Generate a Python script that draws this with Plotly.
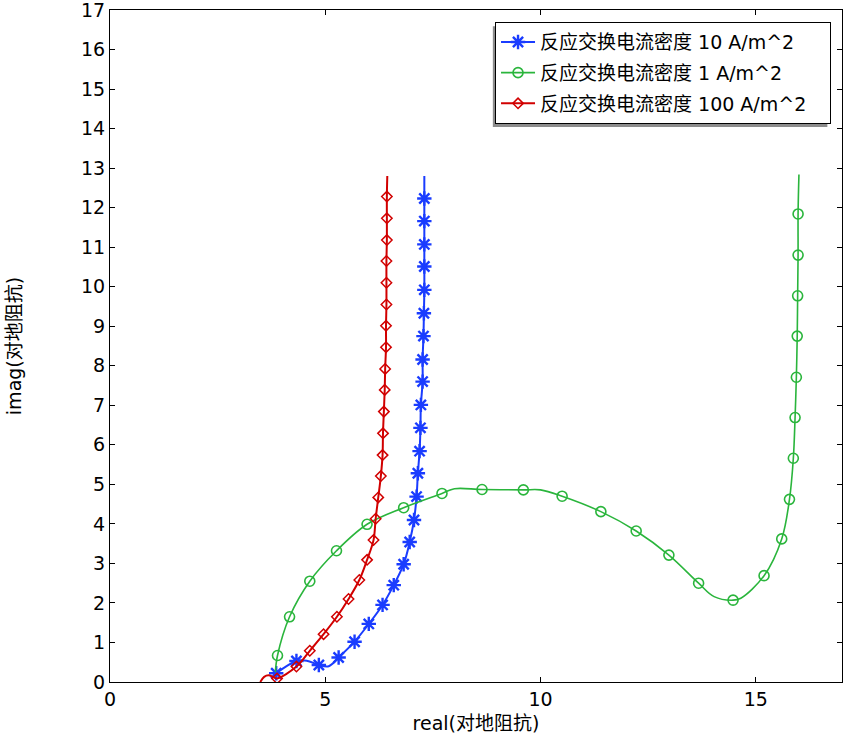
import plotly.graph_objects as go

# 反应交换电流密度 10 A/m^2 (blue)
x10_line = [3.86, 4.33, 4.57, 4.85, 5.08, 5.31, 5.68, 6.01, 6.33, 6.59, 6.82, 6.96, 7.06, 7.12, 7.15,
            7.19, 7.21, 7.22, 7.26, 7.26, 7.28, 7.29, 7.30, 7.30, 7.30, 7.30, 7.30, 7.30]
y10_line = [0.22, 0.53, 0.54, 0.43, 0.40, 0.62, 1.02, 1.47, 1.95, 2.45, 2.98, 3.54, 4.10, 4.69, 5.28,
            5.84, 6.43, 7.01, 7.60, 8.16, 8.75, 9.33, 9.92, 10.51, 11.07, 11.66, 12.23, 12.8]
x10_mark = [3.86, 4.33, 4.85, 5.31, 5.68, 6.01, 6.33, 6.59, 6.82, 6.96, 7.06, 7.12, 7.15,
            7.19, 7.21, 7.22, 7.26, 7.26, 7.28, 7.29, 7.30, 7.30, 7.30, 7.30, 7.30]
y10_mark = [0.22, 0.53, 0.43, 0.62, 1.02, 1.47, 1.95, 2.45, 2.98, 3.54, 4.10, 4.69, 5.28,
            5.84, 6.43, 7.01, 7.60, 8.16, 8.75, 9.33, 9.92, 10.51, 11.07, 11.66, 12.23]

# 反应交换电流密度 1 A/m^2 (green)
x1_line = [3.84, 3.89, 4.17, 4.64, 5.26, 5.97, 6.82, 7.71, 8.0, 8.64, 9.60, 10.0, 10.50, 11.40, 12.22,
           12.98, 13.67, 14.03, 14.47, 14.65, 15.19, 15.60, 15.78, 15.87, 15.91, 15.94, 15.96, 15.97,
           15.98, 15.98, 16.0]
y1_line = [0.25, 0.67, 1.65, 2.55, 3.32, 3.99, 4.41, 4.77, 4.89, 4.87, 4.86, 4.86, 4.70, 4.31, 3.82,
           3.21, 2.50, 2.16, 2.07, 2.12, 2.69, 3.62, 4.62, 5.66, 6.69, 7.71, 8.75, 9.77,
           10.80, 11.84, 12.84]
x1_mark = [3.89, 4.17, 4.64, 5.26, 5.97, 6.82, 7.71, 8.64, 9.60, 10.50, 11.40, 12.22, 12.98, 13.67,
           14.47, 15.19, 15.60, 15.78, 15.87, 15.91, 15.94, 15.96, 15.97, 15.98, 15.98]
y1_mark = [0.67, 1.65, 2.55, 3.32, 3.99, 4.41, 4.77, 4.87, 4.86, 4.70, 4.31, 3.82, 3.21, 2.50,
           2.07, 2.69, 3.62, 4.62, 5.66, 6.69, 7.71, 8.75, 9.77, 10.80, 11.84]

# 反应交换电流密度 100 A/m^2 (red)
x100_line = [3.49, 3.58, 3.68, 3.80, 3.88, 4.33, 4.64, 4.96, 5.27, 5.54, 5.79, 5.97, 6.12, 6.17, 6.23,
             6.29, 6.33, 6.34, 6.36, 6.38, 6.39, 6.41, 6.41, 6.42, 6.42, 6.42, 6.43, 6.43, 6.43, 6.44]
y100_line = [0.0, 0.13, 0.17, 0.12, 0.09, 0.39, 0.79, 1.21, 1.65, 2.10, 2.58, 3.09, 3.59, 4.13, 4.67,
             5.21, 5.74, 6.29, 6.84, 7.39, 7.92, 8.47, 9.01, 9.55, 10.10, 10.65, 11.18, 11.73, 12.28, 12.8]
x100_mark = [3.88, 4.33, 4.64, 4.96, 5.27, 5.54, 5.79, 5.97, 6.12, 6.17, 6.23, 6.29, 6.33, 6.34,
             6.36, 6.38, 6.39, 6.41, 6.41, 6.42, 6.42, 6.42, 6.43, 6.43, 6.43]
y100_mark = [0.09, 0.39, 0.79, 1.21, 1.65, 2.10, 2.58, 3.09, 3.59, 4.13, 4.67, 5.21, 5.74, 6.29,
             6.84, 7.39, 7.92, 8.47, 9.01, 9.55, 10.10, 10.65, 11.18, 11.73, 12.28]

x_ticks = [0, 5, 10, 15]
y_ticks = list(range(0, 18))

series = [
    ('反应交换电流密度 10 A/m^2', x10_line, y10_line, x10_mark, y10_mark, '#1a3cff', 'asterisk-open', 12, 2, 2.4),
    ('反应交换电流密度 1 A/m^2', x1_line, y1_line, x1_mark, y1_mark, '#2ab53c', 'circle-open', 10, 1.6, 1.6),
    ('反应交换电流密度 100 A/m^2', x100_line, y100_line, x100_mark, y100_mark, '#d10000', 'diamond-open', 8, 2, 1.5),
]

FONT = 'DejaVu Sans, Noto Sans CJK SC, sans-serif'

fig = go.Figure()

for name, xl, yl, xm, ym, color, symbol, msize, lw, mlw in series:
    fig.add_trace(go.Scatter(x=xl, y=yl, mode='lines', line=dict(color=color, width=lw, shape='spline'),
                             legendgroup=name, showlegend=False, hoverinfo='skip'))
    fig.add_trace(go.Scatter(x=xm, y=ym, mode='markers', legendgroup=name, showlegend=False,
                             marker=dict(symbol=symbol, size=msize, color=color, line=dict(width=mlw, color=color))))
    # legend entry only (trailing nbsp widen the box like the original)
    fig.add_trace(go.Scatter(x=[None], y=[None], mode='lines+markers', name=name + '\u00a0\u00a0\u00a0',
                             legendgroup=name, line=dict(color=color, width=lw),
                             marker=dict(symbol=symbol, size=msize, color=color, line=dict(width=mlw, color=color))))

axis_common = dict(
    showgrid=False, zeroline=False, showline=True, linecolor='black', linewidth=1,
    mirror='ticks', ticks='inside', ticklen=5, tickcolor='black', ticklabeloverflow='allow',
    automargin=False,
    tickfont=dict(size=19, color='black', family=FONT),
)

fig.update_layout(
    width=846, height=734,
    margin=dict(l=110, r=4, t=10, b=52, autoexpand=False),
    paper_bgcolor='white', plot_bgcolor='white',
    font=dict(family=FONT, color='black'),
    xaxis=dict(range=[0, 17], tickvals=x_ticks, title=dict(text='real(对地阻抗)', font=dict(size=19), standoff=9),
               **axis_common),
    yaxis=dict(range=[0, 17], tickvals=y_ticks, title=dict(text='imag(对地阻抗)', font=dict(size=19), standoff=54),
               **axis_common),
    legend=dict(x=0.985, y=0.982, xanchor='right', yanchor='top', bgcolor='white',
                bordercolor='black', borderwidth=1, font=dict(size=19, family=FONT),
                traceorder='grouped', tracegroupgap=3, itemwidth=34),
    # legend shadow
    shapes=[dict(type='rect', xref='paper', yref='paper', x0=0.523, x1=0.980, y0=0.826, y1=0.976,
                 fillcolor='#8c8c8c', line=dict(width=0), layer='above')],
)

fig.write_html("out.html", config={'displayModeBar': False},
               post_script="document.body.style.margin='0px';")
